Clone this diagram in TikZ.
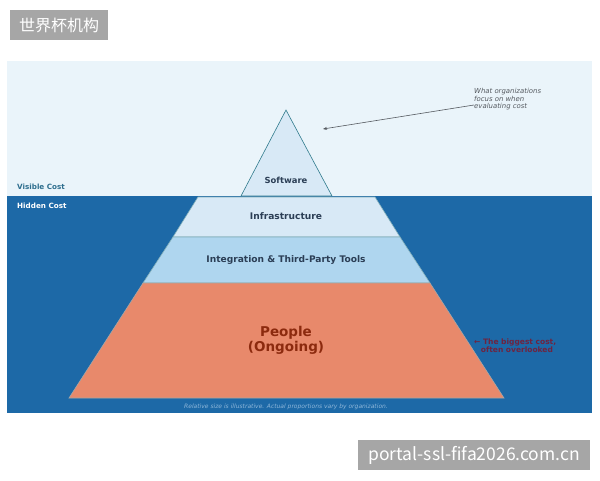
\documentclass[tikz,border=0pt]{standalone}
\usepackage{fontspec}
\setmainfont{DejaVu Sans}
\newfontfamily\cjk{Noto Sans CJK SC}
\usetikzlibrary{arrows.meta}
\definecolor{skyc}{HTML}{EAF4FA}
\definecolor{waterc}{HTML}{1D69A7}
\definecolor{softc}{HTML}{D8E9F6}
\definecolor{intc}{HTML}{AFD6EF}
\definecolor{peoplec}{HTML}{E8896B}
\definecolor{edgec}{HTML}{2F7A8C}
\definecolor{layertxt}{HTML}{2B3E55}
\definecolor{peopletxt}{HTML}{8C2A0E}
\definecolor{vistxt}{HTML}{2E6E8E}
\definecolor{notec}{HTML}{555A60}
\definecolor{bigc}{HTML}{6E2440}
\definecolor{footc}{HTML}{8DB6D9}
\definecolor{wmc}{HTML}{A6A6A6}
\tikzset{
  layer/.style={draw=#1, line width=0.6pt},
  layertext/.style={font=\bfseries\fontsize{9.1}{11}\selectfont, text=layertxt},
  wm/.style={fill=wmc, text=white, inner sep=0pt, font=\cjk\fontsize{16}{18}\selectfont},
}
\begin{document}
\begin{tikzpicture}[x=1pt,y=-1pt]
\useasboundingbox (0,0) rectangle (600,480);
\fill[white] (0,0) rectangle (600,480);
% panels
\fill[skyc] (7,61) rectangle (592,196);
\fill[waterc] (7,196) rectangle (592,413);
% layers
\draw[layer=edgec!60, fill=softc] (198,197) -- (375,197) -- (400,237) -- (173,237) -- cycle;
\draw[layer=edgec!60, fill=intc] (173,237) -- (400,237) -- (430,283) -- (143,283) -- cycle;
\draw[layer=gray!70, fill=peoplec] (143,283) -- (430,283) -- (504,398) -- (69,398) -- cycle;
\draw[layer=edgec, fill=softc] (286,110) -- (332,196) -- (241,196) -- cycle;
% labels
\node[layertext, font=\bfseries\fontsize{8.4}{10}\selectfont] (soft) at (286,180) {Software};
\node[layertext] (infra) at (286,216.5) {Infrastructure};
\node[layertext] (integ) at (286,260) {Integration \& Third-Party Tools};
\node[font=\bfseries\fontsize{13.5}{15}\selectfont, text=peopletxt, align=center] (people) at (286,340) {People\\(Ongoing)};
\node[anchor=west, font=\bfseries\fontsize{7.2}{8}\selectfont, text=vistxt, inner sep=0pt] (vis) at (17,187) {Visible Cost};
\node[anchor=west, font=\bfseries\fontsize{7.2}{8}\selectfont, text=white, inner sep=0pt] (hid) at (17,205.5) {Hidden Cost};
\node[anchor=north west, align=left, inner sep=0pt, font=\itshape\fontsize{6.9}{7.6}\selectfont, text=notec] (note) at (474,88) {What organizations\\focus on when\\evaluating cost};
\coordinate (tip) at (323,129);
\draw[-{Stealth[length=4pt,width=3pt]}, notec, line width=0.6pt] (note.west |- 0,105) -- (tip);
\node[anchor=north west, align=left, inner sep=0pt, font=\bfseries\fontsize{7.5}{8.2}\selectfont, text=bigc] (big) at (474,338.5) {\char"2190\ The biggest cost,\\\hspace{0.9em}often overlooked};
\node[font=\itshape\fontsize{6}{7}\selectfont, text=footc] (foot) at (286,406.5) {Relative size is illustrative. Actual proportions vary by organization.};
% watermarks
\node[wm, anchor=north west, minimum width=98pt, minimum height=30pt] (wm1) at (10,10) {世界杯机构};
\node[wm, font=\cjk\fontsize{17.5}{19}\selectfont, anchor=north west, minimum width=232pt, minimum height=30pt] (wm2) at (358,440) {portal-ssl-fifa2026.com.cn};
\end{tikzpicture}
\end{document}
